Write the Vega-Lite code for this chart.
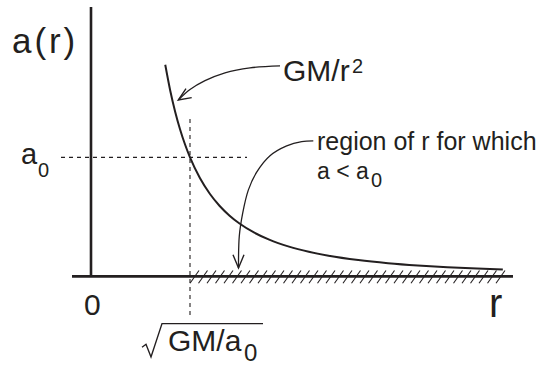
{
  "$schema": "https://vega.github.io/schema/vega-lite/v6.json",
  "width": 541,
  "height": 366,
  "padding": 0,
  "autosize": {"type": "fit", "contains": "padding"},
  "background": "white",
  "config": {"view": {"stroke": null}, "axis": {"disable": true}},
  "datasets": {
    "lines": [
      {"id": "y-axis", "r": 0, "a": 0, "r2": 0, "a2": 2.2645},
      {"id": "x-axis", "r": -0.1919, "a": 0, "r2": 4.2626, "a2": 0}
    ],
    "dashes": [
      {"id": "a0 level", "r": -0.303, "a": 1, "r2": 1.5758, "a2": 1},
      {"id": "r0 level", "r": 1, "a": 1.3223, "r2": 1, "a2": -0.3388}
    ],
    "curve": [
      {"r": 0.75, "a": 1.7778}, {"r": 0.8, "a": 1.5625}, {"r": 0.85, "a": 1.3841},
      {"r": 0.9, "a": 1.2346}, {"r": 0.95, "a": 1.108}, {"r": 1.0, "a": 1.0},
      {"r": 1.1, "a": 0.8264}, {"r": 1.2, "a": 0.6944}, {"r": 1.3, "a": 0.5917},
      {"r": 1.4, "a": 0.5102}, {"r": 1.5, "a": 0.4444}, {"r": 1.65, "a": 0.3673},
      {"r": 1.8, "a": 0.3086}, {"r": 2.0, "a": 0.25}, {"r": 2.2, "a": 0.2066},
      {"r": 2.4, "a": 0.1736}, {"r": 2.7, "a": 0.1372}, {"r": 3.0, "a": 0.1111},
      {"r": 3.3, "a": 0.0918}, {"r": 3.6, "a": 0.0772}, {"r": 3.9, "a": 0.0657},
      {"r": 4.16, "a": 0.0578}
    ],
    "hatch": [
      {"r": 1.0, "r2": 1.0909, "a": -0.0579, "a2": 0.0496},
      {"r": 1.0859, "r2": 1.1768, "a": -0.0579, "a2": 0.0496},
      {"r": 1.1717, "r2": 1.2626, "a": -0.0579, "a2": 0.0496},
      {"r": 1.2576, "r2": 1.3485, "a": -0.0579, "a2": 0.0496},
      {"r": 1.3434, "r2": 1.4343, "a": -0.0579, "a2": 0.0496},
      {"r": 1.4293, "r2": 1.5202, "a": -0.0579, "a2": 0.0496},
      {"r": 1.5152, "r2": 1.6061, "a": -0.0579, "a2": 0.0496},
      {"r": 1.601, "r2": 1.6919, "a": -0.0579, "a2": 0.0496},
      {"r": 1.6869, "r2": 1.7778, "a": -0.0579, "a2": 0.0496},
      {"r": 1.7727, "r2": 1.8636, "a": -0.0579, "a2": 0.0496},
      {"r": 1.8586, "r2": 1.9495, "a": -0.0579, "a2": 0.0496},
      {"r": 1.9444, "r2": 2.0353, "a": -0.0579, "a2": 0.0496},
      {"r": 2.0303, "r2": 2.1212, "a": -0.0579, "a2": 0.0496},
      {"r": 2.1162, "r2": 2.2071, "a": -0.0579, "a2": 0.0496},
      {"r": 2.202, "r2": 2.2929, "a": -0.0579, "a2": 0.0496},
      {"r": 2.2879, "r2": 2.3788, "a": -0.0579, "a2": 0.0496},
      {"r": 2.3737, "r2": 2.4646, "a": -0.0579, "a2": 0.0496},
      {"r": 2.4596, "r2": 2.5505, "a": -0.0579, "a2": 0.0496},
      {"r": 2.5455, "r2": 2.6364, "a": -0.0579, "a2": 0.0496},
      {"r": 2.6313, "r2": 2.7222, "a": -0.0579, "a2": 0.0496},
      {"r": 2.7172, "r2": 2.8081, "a": -0.0579, "a2": 0.0496},
      {"r": 2.803, "r2": 2.8939, "a": -0.0579, "a2": 0.0496},
      {"r": 2.8889, "r2": 2.9798, "a": -0.0579, "a2": 0.0496},
      {"r": 2.9747, "r2": 3.0656, "a": -0.0579, "a2": 0.0496},
      {"r": 3.0606, "r2": 3.1515, "a": -0.0579, "a2": 0.0496},
      {"r": 3.1465, "r2": 3.2374, "a": -0.0579, "a2": 0.0496},
      {"r": 3.2323, "r2": 3.3232, "a": -0.0579, "a2": 0.0496},
      {"r": 3.3182, "r2": 3.4091, "a": -0.0579, "a2": 0.0496},
      {"r": 3.404, "r2": 3.4949, "a": -0.0579, "a2": 0.0496},
      {"r": 3.4899, "r2": 3.5808, "a": -0.0579, "a2": 0.0496},
      {"r": 3.5758, "r2": 3.6667, "a": -0.0579, "a2": 0.0496},
      {"r": 3.6616, "r2": 3.7525, "a": -0.0579, "a2": 0.0496},
      {"r": 3.7475, "r2": 3.8384, "a": -0.0579, "a2": 0.0496},
      {"r": 3.8333, "r2": 3.9242, "a": -0.0579, "a2": 0.0496},
      {"r": 3.9192, "r2": 4.0101, "a": -0.0579, "a2": 0.0496},
      {"r": 4.0051, "r2": 4.096, "a": -0.0579, "a2": 0.0496},
      {"r": 4.0909, "r2": 4.1818, "a": -0.0579, "a2": 0.0496}
    ],
    "arrows": [
      {"id": "arrow1", "seq": 1, "r": 1.9091, "a": 1.7686},
      {"id": "arrow1", "seq": 2, "r": 1.6061, "a": 1.7521},
      {"id": "arrow1", "seq": 3, "r": 1.3535, "a": 1.7107},
      {"id": "arrow1", "seq": 4, "r": 1.1515, "a": 1.6446},
      {"id": "arrow1", "seq": 5, "r": 1.0, "a": 1.5702},
      {"id": "arrow1", "seq": 6, "r": 0.8818, "a": 1.4818},
      {"id": "arrow2", "seq": 1, "r": 2.2455, "a": 1.138},
      {"id": "arrow2", "seq": 2, "r": 2.1283, "a": 1.1322},
      {"id": "arrow2", "seq": 3, "r": 1.9768, "a": 1.0967},
      {"id": "arrow2", "seq": 4, "r": 1.8081, "a": 1.014},
      {"id": "arrow2", "seq": 5, "r": 1.6737, "a": 0.876},
      {"id": "arrow2", "seq": 6, "r": 1.5889, "a": 0.7248},
      {"id": "arrow2", "seq": 7, "r": 1.5323, "a": 0.5314},
      {"id": "arrow2", "seq": 8, "r": 1.498, "a": 0.3388},
      {"id": "arrow2", "seq": 9, "r": 1.4899, "a": 0.0702}
    ],
    "heads": [
      {"id": "head1", "seq": 1, "r": 0.9596, "a": 1.5785},
      {"id": "head1", "seq": 2, "r": 0.8818, "a": 1.4818},
      {"id": "head1", "seq": 3, "r": 1.0172, "a": 1.5017},
      {"id": "head2", "seq": 1, "r": 1.4343, "a": 0.1818},
      {"id": "head2", "seq": 2, "r": 1.4899, "a": 0.0702},
      {"id": "head2", "seq": 3, "r": 1.5455, "a": 0.1818},
      {"id": "radical", "seq": 1, "r": 0.5152, "a": -0.595},
      {"id": "radical", "seq": 2, "r": 0.5556, "a": -0.5702},
      {"id": "radical", "seq": 3, "r": 0.6061, "a": -0.6777},
      {"id": "radical", "seq": 4, "r": 0.7172, "a": -0.3967},
      {"id": "radical", "seq": 5, "r": 1.7374, "a": -0.3967}
    ],
    "text36": [{"label": "a\u200a(\u200ar\u200a)", "r": -0.798, "a": 1.876}],
    "text30": [
      {"label": "0", "r": -0.0707, "a": -0.3223},
      {"label": "GM/r", "r": 1.9394, "a": 1.6446},
      {"label": "GM/a", "r": 0.7778, "a": -0.628}
    ],
    "text40": [{"label": "r", "r": 4.0202, "a": -0.3388}],
    "text28": [
      {"label": "a", "r": -0.7071, "a": 0.9421}
    ],
    "text25": [
      {"label": "region of r for which", "r": 2.2828, "a": 1.0661}
    ],
    "text23": [
      {"label": "a < a", "r": 2.2828, "a": 0.8182}
    ],
    "text24": [
      {"label": "0", "r": 1.5455, "a": -0.7107}
    ],
    "text20": [
      {"label": "2", "r": 2.6364, "a": 1.7107},
      {"label": "0", "r": -0.5354, "a": 0.8347},
      {"label": "0", "r": 2.8283, "a": 0.752}
    ]
  },
  "encoding": {
    "x": {"field": "r", "type": "quantitative", "scale": {"domain": [-0.9192, 4.5455], "nice": false, "zero": false}, "axis": null},
    "y": {"field": "a", "type": "quantitative", "scale": {"domain": [-0.7025, 2.3223], "nice": false, "zero": false}, "axis": null}
  },
  "layer": [
    {
      "data": {"name": "dashes"},
      "mark": {"type": "rule", "color": "#231f20", "strokeWidth": 1.1, "strokeDash": [4, 4]},
      "encoding": {"x2": {"field": "r2"}, "y2": {"field": "a2"}}
    },
    {
      "data": {"name": "hatch"},
      "mark": {"type": "rule", "color": "#231f20", "strokeWidth": 1.1},
      "encoding": {"x2": {"field": "r2"}, "y2": {"field": "a2"}}
    },
    {
      "data": {"name": "lines"},
      "mark": {"type": "rule", "color": "#231f20", "strokeWidth": 2.6},
      "encoding": {"x2": {"field": "r2"}, "y2": {"field": "a2"}}
    },
    {
      "data": {"name": "curve"},
      "mark": {"type": "line", "color": "#231f20", "strokeWidth": 2, "interpolate": "monotone"},
      "encoding": {}
    },
    {
      "data": {"name": "arrows"},
      "mark": {"type": "line", "color": "#231f20", "strokeWidth": 1.3, "interpolate": "catmull-rom"},
      "encoding": {"detail": {"field": "id"}, "order": {"field": "seq"}}
    },
    {
      "data": {"name": "heads"},
      "mark": {"type": "line", "color": "#231f20", "strokeWidth": 1.4, "strokeJoin": "miter"},
      "encoding": {"detail": {"field": "id"}, "order": {"field": "seq"}}
    },
    {
      "data": {"name": "text36"},
      "mark": {"type": "text", "font": "Liberation Sans", "fontSize": 35, "align": "left", "baseline": "alphabetic", "color": "#231f20"},
      "encoding": {"text": {"field": "label"}}
    },
    {
      "data": {"name": "text30"},
      "mark": {"type": "text", "font": "Liberation Sans", "fontSize": 30, "align": "left", "baseline": "alphabetic", "color": "#231f20"},
      "encoding": {"text": {"field": "label"}}
    },
    {
      "data": {"name": "text40"},
      "mark": {"type": "text", "font": "Liberation Sans", "fontSize": 40, "align": "left", "baseline": "alphabetic", "color": "#231f20"},
      "encoding": {"text": {"field": "label"}}
    },
    {
      "data": {"name": "text28"},
      "mark": {"type": "text", "font": "Liberation Sans", "fontSize": 29, "align": "left", "baseline": "alphabetic", "color": "#231f20"},
      "encoding": {"text": {"field": "label"}}
    },
    {
      "data": {"name": "text25"},
      "mark": {"type": "text", "font": "Liberation Sans", "fontSize": 25, "align": "left", "baseline": "alphabetic", "color": "#231f20"},
      "encoding": {"text": {"field": "label"}}
    },
    {
      "data": {"name": "text23"},
      "mark": {"type": "text", "font": "Liberation Sans", "fontSize": 23, "align": "left", "baseline": "alphabetic", "color": "#231f20"},
      "encoding": {"text": {"field": "label"}}
    },
    {
      "data": {"name": "text24"},
      "mark": {"type": "text", "font": "Liberation Sans", "fontSize": 24, "align": "left", "baseline": "alphabetic", "color": "#231f20"},
      "encoding": {"text": {"field": "label"}}
    },
    {
      "data": {"name": "text20"},
      "mark": {"type": "text", "font": "Liberation Sans", "fontSize": 20, "align": "left", "baseline": "alphabetic", "color": "#231f20"},
      "encoding": {"text": {"field": "label"}}
    }
  ]
}
